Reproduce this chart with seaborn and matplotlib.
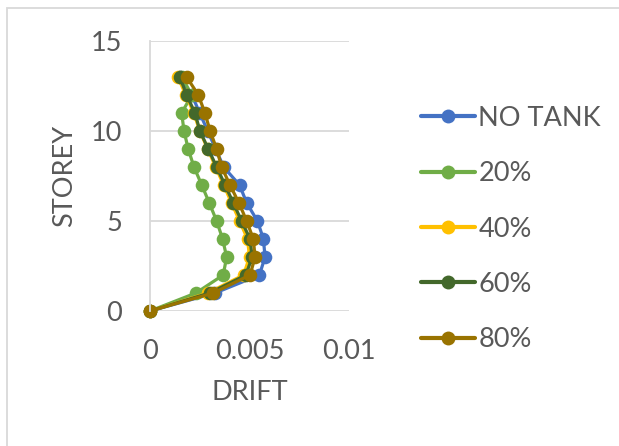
import matplotlib
matplotlib.use("Agg")
import matplotlib.pyplot as plt
from matplotlib.patches import Rectangle
import pandas as pd
import seaborn as sns

# Storey levels and inter-storey drift for each tank fill case
storey = list(range(14))
drift_no_tank = [0, 0.00327, 0.0055, 0.00578, 0.0057, 0.0054, 0.00486, 0.0045,
                 0.0037, 0.0033, 0.0029, 0.0025, 0.0021, 0.0015]
drift_20 = [0, 0.00231, 0.00368, 0.00385, 0.00365, 0.00335, 0.00298, 0.0026,
            0.00221, 0.00192, 0.00171, 0.00159, 0.0021, 0.0016]
drift_40 = [0, 0.0029, 0.0047, 0.0050, 0.0049, 0.0045, 0.0041, 0.0037,
            0.0033, 0.0029, 0.0025, 0.0022, 0.0018, 0.0014]
drift_60 = [0, 0.0030, 0.00482, 0.00513, 0.00503, 0.0046, 0.00419, 0.00377,
            0.00335, 0.00293, 0.00251, 0.00226, 0.00184, 0.0015]
drift_80 = [0, 0.00318, 0.00503, 0.00528, 0.00519, 0.00486, 0.00447, 0.00402,
            0.0036, 0.00335, 0.00302, 0.00276, 0.00243, 0.00184]

series_names = ["NO TANK", "20%", "40%", "60%", "80%"]
series_values = [drift_no_tank, drift_20, drift_40, drift_60, drift_80]
colors = ["#4472C4", "#70AD47", "#FFC000", "#43682B", "#997300"]

x_ticks = [0, 0.005, 0.01]
x_tick_labels = ["0", "0.005", "0.01"]
y_ticks = [0, 5, 10, 15]

df = pd.concat(
    [pd.DataFrame({"DRIFT": v, "STOREY": storey, "case": n})
     for n, v in zip(series_names, series_values)],
    ignore_index=True,
)

sns.set_theme(style="white")
plt.rcParams["font.family"] = ["Lato", "DejaVu Sans"]
text_color = "#595959"
grid_color = "#D9D9D9"

fig = plt.figure(figsize=(6.19, 4.46), dpi=100)
ax = fig.add_axes([150 / 619, 1 - 311 / 446, 199 / 619, 270 / 446])

sns.lineplot(
    data=df, x="DRIFT", y="STOREY", hue="case", hue_order=series_names,
    palette=colors, orient="y", sort=False, estimator=None,
    marker="o", markersize=9.8, markeredgewidth=0, linewidth=2.3, ax=ax,
)
for line in ax.get_lines():
    line.set_clip_on(False)

ax.set_xlim(0, 0.01)
ax.set_ylim(0, 15)
ax.set_xticks(x_ticks)
ax.set_xticklabels(x_tick_labels)
ax.set_yticks(y_ticks)
ax.yaxis.grid(True, color=grid_color, linewidth=1.3)
ax.xaxis.grid(False)
ax.set_axisbelow(True)
for side in ["top", "right", "bottom"]:
    ax.spines[side].set_visible(False)
ax.spines["left"].set_color(grid_color)
ax.spines["left"].set_linewidth(1.3)
ax.tick_params(axis="both", length=0, labelsize=19.5, labelcolor=text_color)
ax.tick_params(axis="y", pad=20)
ax.tick_params(axis="x", pad=20)

ax.set_xlabel("DRIFT", fontsize=19.5, color=text_color, labelpad=12)
ax.set_ylabel("STOREY", fontsize=19.5, color=text_color, labelpad=10)

handles, labels = ax.get_legend_handles_labels()
leg = ax.legend(
    handles, labels, loc="center left", bbox_to_anchor=(410 / 619, 1 - 229 / 446),
    bbox_transform=fig.transFigure, frameon=False, fontsize=19.5,
    labelcolor=text_color, handlelength=2.0, handletextpad=0.12,
    labelspacing=1.12, borderaxespad=0,
)
for line in leg.get_lines():
    line.set_linewidth(3)
    line.set_markersize(10)

# chart-area frame
fig.patches.append(Rectangle((7 / 619, -0.1), 1.2, 1 - 8 / 446 + 0.1,
                             transform=fig.transFigure, fill=False,
                             edgecolor=grid_color, linewidth=1.3))

fig.savefig("out.png", dpi=100)
